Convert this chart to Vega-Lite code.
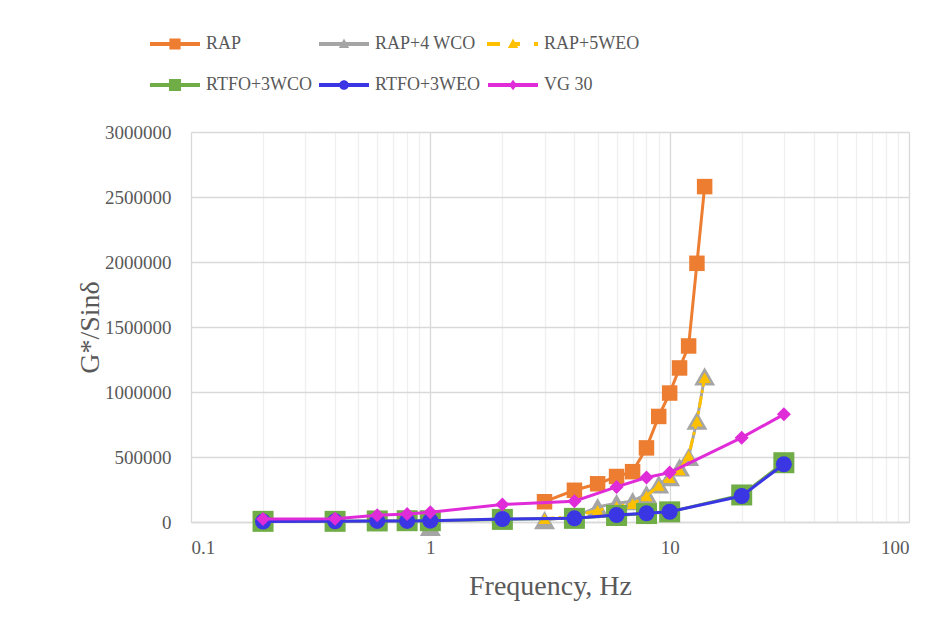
{
  "$schema": "https://vega.github.io/schema/vega-lite/v6.json",
  "width": 718,
  "height": 390,
  "autosize": {"type": "none"},
  "padding": {"left": 191, "top": 132, "right": 36, "bottom": 111},
  "background": "white",
  "config": {
    "font": "Liberation Serif",
    "view": {"stroke": null},
    "axis": {"labelFont": "Liberation Serif", "titleFont": "Liberation Serif", "labelColor": "#595959", "titleColor": "#595959", "titleFontWeight": "normal", "labelFontSize": 19, "titleFontSize": 28, "ticks": false, "gridColor": "#d9d9d9", "gridWidth": 1.3},
    "legend": {"labelFont": "Liberation Serif", "titleFont": "Liberation Serif"}
  },
  "data": {
    "values": [
      {"series": "RAP", "f": 3, "v": 156000},
      {"series": "RAP", "f": 4, "v": 244000},
      {"series": "RAP", "f": 5, "v": 294000},
      {"series": "RAP", "f": 6, "v": 350000},
      {"series": "RAP", "f": 7, "v": 387000},
      {"series": "RAP", "f": 8, "v": 570000},
      {"series": "RAP", "f": 9, "v": 812000},
      {"series": "RAP", "f": 10, "v": 992000},
      {"series": "RAP", "f": 11, "v": 1185000},
      {"series": "RAP", "f": 12, "v": 1354000},
      {"series": "RAP", "f": 13, "v": 1990000},
      {"series": "RAP", "f": 14, "v": 2580000},
      {"series": "RAP+4 WCO", "f": 1, "v": -38000},
      {"series": "RAP+4 WCO", "f": 3, "v": 15000},
      {"series": "RAP+4 WCO", "f": 4, "v": 40000},
      {"series": "RAP+4 WCO", "f": 5, "v": 115000},
      {"series": "RAP+4 WCO", "f": 6, "v": 145000},
      {"series": "RAP+4 WCO", "f": 7, "v": 160000},
      {"series": "RAP+4 WCO", "f": 8, "v": 215000},
      {"series": "RAP+4 WCO", "f": 9, "v": 290000},
      {"series": "RAP+4 WCO", "f": 10, "v": 345000},
      {"series": "RAP+4 WCO", "f": 11, "v": 420000},
      {"series": "RAP+4 WCO", "f": 12, "v": 500000},
      {"series": "RAP+4 WCO", "f": 13, "v": 780000},
      {"series": "RAP+4 WCO", "f": 14, "v": 1120000},
      {"series": "RAP+5WEO", "f": 3, "v": 25000},
      {"series": "RAP+5WEO", "f": 4, "v": 45000},
      {"series": "RAP+5WEO", "f": 5, "v": 90000},
      {"series": "RAP+5WEO", "f": 6, "v": 120000},
      {"series": "RAP+5WEO", "f": 7, "v": 140000},
      {"series": "RAP+5WEO", "f": 8, "v": 200000},
      {"series": "RAP+5WEO", "f": 9, "v": 280000},
      {"series": "RAP+5WEO", "f": 10, "v": 340000},
      {"series": "RAP+5WEO", "f": 11, "v": 400000},
      {"series": "RAP+5WEO", "f": 12, "v": 510000},
      {"series": "RAP+5WEO", "f": 13, "v": 775000},
      {"series": "RAP+5WEO", "f": 14, "v": 1110000},
      {"series": "RTFO+3WCO", "f": 0.2, "v": 5000},
      {"series": "RTFO+3WCO", "f": 0.4, "v": 5000},
      {"series": "RTFO+3WCO", "f": 0.6, "v": 8000},
      {"series": "RTFO+3WCO", "f": 0.8, "v": 10000},
      {"series": "RTFO+3WCO", "f": 1, "v": 10000},
      {"series": "RTFO+3WCO", "f": 2, "v": 20000},
      {"series": "RTFO+3WCO", "f": 4, "v": 28000},
      {"series": "RTFO+3WCO", "f": 6, "v": 50000},
      {"series": "RTFO+3WCO", "f": 8, "v": 65000},
      {"series": "RTFO+3WCO", "f": 10, "v": 78000},
      {"series": "RTFO+3WCO", "f": 20, "v": 208000},
      {"series": "RTFO+3WCO", "f": 30, "v": 456000},
      {"series": "RTFO+3WEO", "f": 0.2, "v": 3000},
      {"series": "RTFO+3WEO", "f": 0.4, "v": 5000},
      {"series": "RTFO+3WEO", "f": 0.6, "v": 8000},
      {"series": "RTFO+3WEO", "f": 0.8, "v": 8000},
      {"series": "RTFO+3WEO", "f": 1, "v": 10000},
      {"series": "RTFO+3WEO", "f": 2, "v": 23000},
      {"series": "RTFO+3WEO", "f": 4, "v": 28000},
      {"series": "RTFO+3WEO", "f": 6, "v": 54000},
      {"series": "RTFO+3WEO", "f": 8, "v": 67000},
      {"series": "RTFO+3WEO", "f": 10, "v": 79000},
      {"series": "RTFO+3WEO", "f": 20, "v": 200000},
      {"series": "RTFO+3WEO", "f": 30, "v": 444000},
      {"series": "VG 30", "f": 0.2, "v": 23000},
      {"series": "VG 30", "f": 0.4, "v": 25000},
      {"series": "VG 30", "f": 0.6, "v": 51000},
      {"series": "VG 30", "f": 0.8, "v": 61000},
      {"series": "VG 30", "f": 1, "v": 75000},
      {"series": "VG 30", "f": 2, "v": 135000},
      {"series": "VG 30", "f": 4, "v": 160000},
      {"series": "VG 30", "f": 6, "v": 270000},
      {"series": "VG 30", "f": 8, "v": 342000},
      {"series": "VG 30", "f": 10, "v": 380000},
      {"series": "VG 30", "f": 20, "v": 649000},
      {"series": "VG 30", "f": 30, "v": 828000}
    ]
  },
  "encoding": {
    "x": {
      "field": "f", "type": "quantitative",
      "scale": {"type": "log", "domain": [0.1, 100], "nice": false},
      "axis": {
        "title": "Frequency, Hz",
        "labelFont": "Liberation Serif",
        "titleFont": "Liberation Serif",
        "values": [0.1, 0.2, 0.3, 0.4, 0.5, 0.6, 0.7, 0.8, 0.9, 1, 2, 3, 4, 5, 6, 7, 8, 9, 10, 20, 30, 40, 50, 60, 70, 80, 90, 100],
        "format": "~g",
        "labelExpr": "(datum.value == 0.1 || datum.value == 1 || datum.value == 10 || datum.value == 100) ? datum.label : ''",
        "labelOverlap": false,
        "labelPadding": 16,
        "titlePadding": 15,
        "domainColor": "#d9d9d9",
        "domainWidth": 1.3,
        "gridColor": {"condition": {"test": "datum.value == 0.1 || datum.value == 1 || datum.value == 10 || datum.value == 100", "value": "#d9d9d9"}, "value": "#efefef"}
      }
    },
    "y": {
      "field": "v", "type": "quantitative",
      "scale": {"domain": [0, 3000000], "nice": false},
      "axis": {
        "title": "G*/Sinδ",
        "labelFont": "Liberation Serif",
        "titleFont": "Liberation Serif",
        "values": [0, 500000, 1000000, 1500000, 2000000, 2500000, 3000000],
        "format": "d",
        "domain": false,
        "labelPadding": 20,
        "titlePadding": 0
      }
    },
    "color": {
      "field": "series", "type": "nominal",
      "scale": {
        "domain": ["RAP", "RAP+4 WCO", "RAP+5WEO", "RTFO+3WCO", "RTFO+3WEO", "VG 30"],
        "range": ["#ED7D31", "#A5A5A5", "#FFC000", "#70AD47", "#3B36E3", "#E02CD8"]
      },
      "legend": {
        "title": null,
        "orient": "none",
        "direction": "horizontal",
        "legendX": -36,
        "legendY": -108,
        "columns": 3,
        "symbolSize": 1600,
        "labelFontSize": 18,
        "labelFont": "Liberation Serif",
        "labelColor": "#595959",
        "labelOffset": 11,
        "columnPadding": 6,
        "rowPadding": 12,
        "padding": 0,
        "encode": {
          "symbols": {
            "update": {
              "shape": {"signal": "datum.value === 'RAP' ? 'M-1.25,-0.1H1.25V0.1H-1.25Z M-0.28,-0.28H0.28V0.28H-0.28Z' : datum.value === 'RAP+4 WCO' ? 'M-1.25,-0.1H1.25V0.1H-1.25Z M0,-0.27L0.26,0.2H-0.26Z' : datum.value === 'RAP+5WEO' ? 'M-1.3,-0.1H-0.65V0.1H-1.3Z M0,-0.27L0.26,0.2H-0.26Z M0,-0.1H0.35V0.1H0Z M1.05,-0.1H1.25V0.1H1.05Z' : datum.value === 'RTFO+3WCO' ? 'M-1.25,-0.1H1.25V0.1H-1.25Z M-0.3,-0.3H0.3V0.3H-0.3Z' : datum.value === 'RTFO+3WEO' ? 'M-1.25,-0.1H1.25V0.1H-1.25Z M-0.24,0A0.24,0.24,0,1,1,0.24,0A0.24,0.24,0,1,1,-0.24,0Z' : 'M-1.25,-0.1H1.25V0.1H-1.25Z M0,-0.26L0.2,0L0,0.26L-0.2,0Z'"},
              "fill": {"scale": "color", "field": "value"},
              "stroke": {"value": "transparent"},
              "strokeWidth": {"value": 0},
              "opacity": {"value": 1}
            }
          }
        }
      }
    }
  },
  "layer": [
    {
      "transform": [{"filter": "datum.series === 'RAP'"}],
      "mark": {"type": "line", "strokeWidth": 3, "point": {"shape": "square", "size": 240, "filled": true, "opacity": 1, "strokeWidth": 0}}
    },
    {
      "transform": [{"filter": "datum.series === 'RAP+4 WCO' && datum.f >= 2"}],
      "mark": {"type": "line", "strokeWidth": 3, "point": {"shape": "triangle-up", "size": 441, "filled": true, "opacity": 1, "strokeWidth": 0}}
    },
    {
      "transform": [{"filter": "datum.series === 'RAP+4 WCO' && datum.f < 2"}],
      "mark": {"type": "point", "shape": "triangle-up", "size": 441, "filled": true, "opacity": 1, "strokeWidth": 0}
    },
    {
      "transform": [{"filter": "datum.series === 'RAP+5WEO'"}],
      "mark": {"type": "line", "strokeWidth": 3, "strokeDash": [9, 6, 0.5, 6], "strokeCap": "round", "point": {"shape": "triangle-up", "size": 144, "filled": true, "opacity": 1, "strokeWidth": 0}}
    },
    {
      "transform": [{"filter": "datum.series === 'RTFO+3WCO'"}],
      "mark": {"type": "line", "strokeWidth": 3, "point": {"shape": "square", "size": 441, "filled": true, "opacity": 1, "strokeWidth": 0}}
    },
    {
      "transform": [{"filter": "datum.series === 'RTFO+3WEO'"}],
      "mark": {"type": "line", "strokeWidth": 3, "point": {"shape": "circle", "size": 256, "filled": true, "opacity": 1, "strokeWidth": 0}}
    },
    {
      "transform": [{"filter": "datum.series === 'VG 30'"}],
      "mark": {"type": "line", "strokeWidth": 3, "point": {"shape": "diamond", "size": 196, "filled": true, "opacity": 1, "strokeWidth": 0}}
    }
  ]
}
